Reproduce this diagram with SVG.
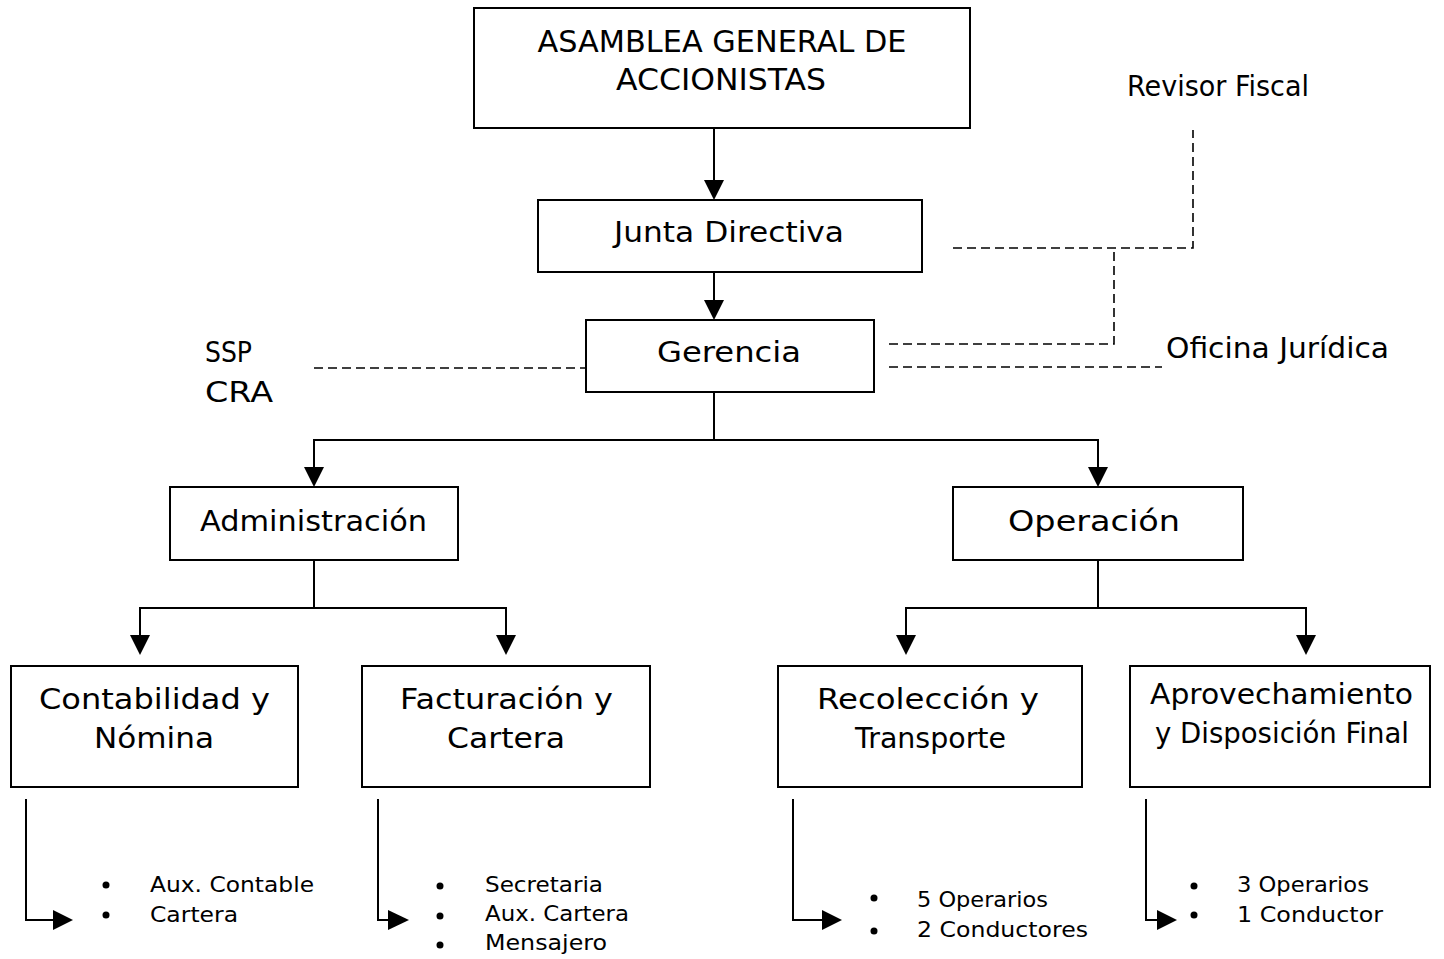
<svg xmlns="http://www.w3.org/2000/svg" width="1444" height="959" viewBox="0 0 1444 959">
<style>
.box{fill:#fff;stroke:#000;stroke-width:2}
.t{font-family:"DejaVu Sans","Liberation Sans",sans-serif;fill:#000}
.big{font-size:30px}
.mid{font-size:29px}
.sm{font-size:22px}
.ln{fill:none;stroke:#000;stroke-width:2}
.dash{fill:none;stroke:#000;stroke-width:1.6;stroke-dasharray:9 5}
.ah{fill:#000}
</style>
<rect width="1444" height="959" fill="#fff"/>
<g id="connectors">
<line class="ln" x1="714" y1="128" x2="714" y2="182"/>
<polygon class="ah" points="704,180 724,180 714,200"/>
<line class="ln" x1="714" y1="272" x2="714" y2="302"/>
<polygon class="ah" points="704,300 724,300 714,320"/>
<polyline class="ln" points="714,392 714,440"/>
<polyline class="ln" points="314,469 314,440 1098,440 1098,469"/>
<polygon class="ah" points="304,467 324,467 314,487"/>
<polygon class="ah" points="1088,467 1108,467 1098,487"/>
<line class="ln" x1="314" y1="560" x2="314" y2="608"/>
<polyline class="ln" points="140,637 140,608 506,608 506,637"/>
<polygon class="ah" points="130,635 150,635 140,655"/>
<polygon class="ah" points="496,635 516,635 506,655"/>
<line class="ln" x1="1098" y1="560" x2="1098" y2="608"/>
<polyline class="ln" points="906,637 906,608 1306,608 1306,637"/>
<polygon class="ah" points="896,635 916,635 906,655"/>
<polygon class="ah" points="1296,635 1316,635 1306,655"/>
<polyline class="ln" points="26,799 26,920 55,920"/>
<polygon class="ah" points="53,910 53,930 73,920"/>
<polyline class="ln" points="378,799 378,920 390,920"/>
<polygon class="ah" points="388,910 388,930 409,920"/>
<polyline class="ln" points="793,799 793,920 823,920"/>
<polygon class="ah" points="822,910 822,930 842,920"/>
<polyline class="ln" points="1146,799 1146,920 1159,920"/>
<polygon class="ah" points="1157,910 1157,930 1177,920"/>
<polyline class="dash" points="953,248 1193,248 1193,130"/>
<polyline class="dash" points="889,344 1114,344 1114,248"/>
<line class="dash" x1="889" y1="367" x2="1162" y2="367"/>
<line class="dash" x1="314" y1="368" x2="586" y2="368"/>
</g>
<g id="asamblea">
<rect class="box" x="474" y="8" width="496" height="120"/>
<text class="t big" x="722" y="52" text-anchor="middle" textLength="369" lengthAdjust="spacingAndGlyphs">ASAMBLEA GENERAL DE</text>
<text class="t big" x="721" y="90" text-anchor="middle" textLength="210" lengthAdjust="spacingAndGlyphs">ACCIONISTAS</text>
</g>
<g id="revisor">
<text class="t mid" x="1127" y="96" textLength="182" lengthAdjust="spacingAndGlyphs">Revisor Fiscal</text>
</g>
<g id="junta">
<rect class="box" x="538" y="200" width="384" height="72"/>
<text class="t mid" x="729" y="242" text-anchor="middle" textLength="230" lengthAdjust="spacingAndGlyphs">Junta Directiva</text>
</g>
<g id="gerencia">
<rect class="box" x="586" y="320" width="288" height="72"/>
<text class="t mid" x="729" y="362" text-anchor="middle" textLength="144" lengthAdjust="spacingAndGlyphs">Gerencia</text>
</g>
<g id="ssp">
<text class="t mid" x="205" y="362" textLength="47" lengthAdjust="spacingAndGlyphs">SSP</text>
<text class="t mid" x="205" y="402" textLength="68" lengthAdjust="spacingAndGlyphs">CRA</text>
</g>
<g id="juridica">
<text class="t mid" x="1166" y="358" textLength="223" lengthAdjust="spacingAndGlyphs">Oficina Jurídica</text>
</g>
<g id="administracion">
<rect class="box" x="170" y="487" width="288" height="73"/>
<text class="t mid" x="200" y="531" textLength="227" lengthAdjust="spacingAndGlyphs">Administración</text>
</g>
<g id="operacion">
<rect class="box" x="953" y="487" width="290" height="73"/>
<text class="t mid" x="1008" y="531" textLength="172" lengthAdjust="spacingAndGlyphs">Operación</text>
</g>
<g id="contabilidad">
<rect class="box" x="11" y="666" width="287" height="121"/>
<text class="t mid" x="39" y="709" textLength="231" lengthAdjust="spacingAndGlyphs">Contabilidad y</text>
<text class="t mid" x="94" y="748" textLength="120" lengthAdjust="spacingAndGlyphs">Nómina</text>
</g>
<g id="facturacion">
<rect class="box" x="362" y="666" width="288" height="121"/>
<text class="t mid" x="400" y="709" textLength="213" lengthAdjust="spacingAndGlyphs">Facturación y</text>
<text class="t mid" x="447" y="748" textLength="118" lengthAdjust="spacingAndGlyphs">Cartera</text>
</g>
<g id="recoleccion">
<rect class="box" x="778" y="666" width="304" height="121"/>
<text class="t mid" x="817" y="709" textLength="222" lengthAdjust="spacingAndGlyphs">Recolección y</text>
<text class="t mid" x="855" y="748" textLength="151" lengthAdjust="spacingAndGlyphs">Transporte</text>
</g>
<g id="aprovechamiento">
<rect class="box" x="1130" y="666" width="300" height="121"/>
<text class="t mid" x="1150" y="704" textLength="263" lengthAdjust="spacingAndGlyphs">Aprovechamiento</text>
<text class="t mid" x="1155" y="743" textLength="254" lengthAdjust="spacingAndGlyphs">y Disposición Final</text>
</g>
<g id="list-contabilidad">
<circle cx="106" cy="885" r="3.5"/><circle cx="106" cy="915" r="3.5"/>
<text class="t sm" x="150" y="892" textLength="164" lengthAdjust="spacingAndGlyphs">Aux. Contable</text>
<text class="t sm" x="150" y="922" textLength="88" lengthAdjust="spacingAndGlyphs">Cartera</text>
</g>
<g id="list-facturacion">
<circle cx="440" cy="886" r="3.5"/><circle cx="440" cy="916" r="3.5"/><circle cx="440" cy="945" r="3.5"/>
<text class="t sm" x="485" y="892" textLength="118" lengthAdjust="spacingAndGlyphs">Secretaria</text>
<text class="t sm" x="485" y="921" textLength="144" lengthAdjust="spacingAndGlyphs">Aux. Cartera</text>
<text class="t sm" x="485" y="950" textLength="122" lengthAdjust="spacingAndGlyphs">Mensajero</text>
</g>
<g id="list-recoleccion">
<circle cx="874" cy="898" r="3.5"/><circle cx="874" cy="931" r="3.5"/>
<text class="t sm" x="917" y="907" textLength="131" lengthAdjust="spacingAndGlyphs">5 Operarios</text>
<text class="t sm" x="917" y="937" textLength="171" lengthAdjust="spacingAndGlyphs">2 Conductores</text>
</g>
<g id="list-aprovechamiento">
<circle cx="1194" cy="886" r="3.5"/><circle cx="1194" cy="915" r="3.5"/>
<text class="t sm" x="1237" y="892" textLength="132" lengthAdjust="spacingAndGlyphs">3 Operarios</text>
<text class="t sm" x="1237" y="922" textLength="146" lengthAdjust="spacingAndGlyphs">1 Conductor</text>
</g>
</svg>
